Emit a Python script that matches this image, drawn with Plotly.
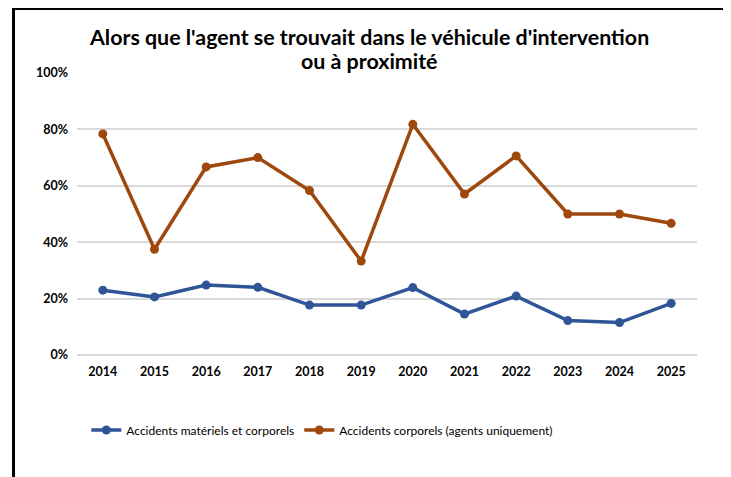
import plotly.graph_objects as go

years = ["2014", "2015", "2016", "2017", "2018", "2019",
         "2020", "2021", "2022", "2023", "2024", "2025"]

# share of accidents (fraction)
materiels_corporels = [0.230, 0.206, 0.248, 0.240, 0.177, 0.177,
                       0.239, 0.145, 0.209, 0.122, 0.115, 0.183]
corporels_agents = [0.784, 0.375, 0.667, 0.700, 0.583, 0.333,
                    0.818, 0.571, 0.706, 0.500, 0.500, 0.467]

blue = "#2F5597"
orange = "#9E480E"

fig = go.Figure()
fig.add_trace(go.Scatter(
    x=years, y=materiels_corporels,
    mode="lines+markers",
    name="Accidents matériels et corporels",
    line=dict(color=blue, width=3.5),
    marker=dict(color=blue, size=9)
))
fig.add_trace(go.Scatter(
    x=years, y=corporels_agents,
    mode="lines+markers",
    name="Accidents corporels (agents uniquement)",
    line=dict(color=orange, width=3.5),
    marker=dict(color=orange, size=9)
))

# page body adds 8px offset, so margins are shifted by -8
fig.update_layout(
    width=731, height=477,
    margin=dict(l=69, r=42, t=65, b=130),
    paper_bgcolor="white",
    plot_bgcolor="white",
    font=dict(family="Lato", color="black"),
    xaxis=dict(
        type="category",
        range=[-0.5, len(years) - 0.5],
        showgrid=False,
        showline=False,
        ticks="",
        tickfont=dict(size=12.5),
        tickprefix="<b>", ticksuffix="</b>",
        ticklabelstandoff=7,
        automargin=False,
    ),
    yaxis=dict(
        range=[0, 1],
        dtick=0.2,
        tickformat=".0%",
        showgrid=True,
        gridcolor="#D9D9D9",
        gridwidth=1.5,
        zeroline=True,
        zerolinecolor="#D9D9D9",
        zerolinewidth=1.5,
        tickfont=dict(size=12.5),
        tickprefix="<b>", ticksuffix="</b>",
        ticklabelstandoff=8,
        automargin=False,
    ),
    legend=dict(
        orientation="h",
        x=0.015, xanchor="left",
        y=-0.266, yanchor="middle",
        font=dict(size=12),
        itemwidth=30,
    ),
    annotations=[
        dict(text="<b>Alors que l'agent se trouvait dans le véhicule d'intervention</b>",
             xref="paper", yref="paper", x=0.471, y=1.128,
             xanchor="center", yanchor="middle", showarrow=False,
             font=dict(size=21.4, color="black")),
        dict(text="<b>ou à proximité</b>",
             xref="paper", yref="paper", x=0.471, y=1.041,
             xanchor="center", yanchor="middle", showarrow=False,
             font=dict(size=21.4, color="black")),
    ],
    shapes=[dict(
        type="rect", xref="paper", yref="paper",
        x0=-0.1024, x1=1.0444, y0=-0.6, y1=1.2287,
        line=dict(color="black", width=3),
        fillcolor="rgba(0,0,0,0)",
        layer="above"
    )]
)

fig.write_html("out.html")
